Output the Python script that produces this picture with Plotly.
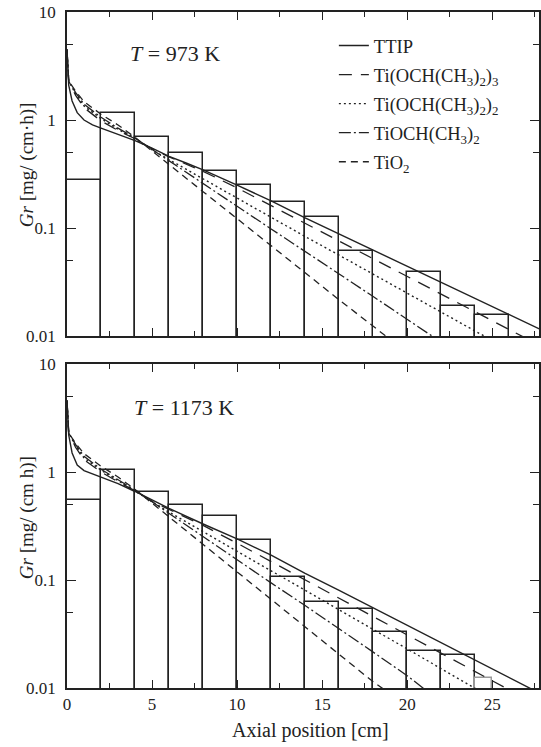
import plotly.graph_objects as go

# ---------------- data ----------------
bin_left = [0, 2, 4, 6, 8, 10, 12, 14, 16, 18, 20, 22, 24]
bin_right_top = [2, 4, 6, 8, 10, 12, 14, 16, 18, 20, 22, 24, 26]
bin_right_bot = [2, 4, 6, 8, 10, 12, 14, 16, 18, 20, 22, 24, 25]
exp_top = [0.28, 1.15, 0.70, 0.50, 0.34, 0.252, 0.174, 0.126, 0.061, None, 0.039, 0.019, 0.0156]
exp_bot = [0.55, 1.04, 0.65, 0.50, 0.39, 0.234, 0.106, 0.063, 0.0535, 0.0327, 0.022, 0.0202, 0.0124]

# 973 K model curves
ttip_x_t = [0, 0.1, 0.3, 0.6, 1, 1.5, 2, 3, 4, 5, 6, 7, 8, 10, 12, 14, 16, 18, 20, 22, 24, 26, 28]
ttip_y_t = [4.5, 2.1, 1.5, 1.17, 1.0, 0.9, 0.84, 0.73, 0.645, 0.55, 0.46, 0.40, 0.345, 0.25, 0.178, 0.124,
            0.088, 0.0625, 0.044, 0.031, 0.022, 0.0158, 0.0112]
tri_x_t = [0, 0.1, 0.5, 1, 2, 3, 4, 5, 6, 8, 10, 12, 14, 16, 18, 20, 22, 24, 26, 27]
tri_y_t = [4.5, 2.3, 1.7, 1.3, 0.98, 0.8, 0.67, 0.54, 0.455, 0.335, 0.235, 0.161, 0.111, 0.0759, 0.052,
           0.0356, 0.0244, 0.0168, 0.0115, 0.0095]
di_x_t = [0, 0.1, 0.5, 1, 2, 3, 4, 5, 6, 8, 10, 12, 14, 16, 18, 20, 22, 24, 25]
di_y_t = [4.5, 2.3, 1.75, 1.35, 1.03, 0.82, 0.67, 0.53, 0.43, 0.285, 0.187, 0.125, 0.0834, 0.056, 0.0372,
          0.0249, 0.0166, 0.0111, 0.0091]
mono_x_t = [0, 0.1, 0.5, 1, 2, 3, 4, 5, 6, 8, 10, 12, 14, 16, 18, 20, 21.5]
mono_y_t = [4.5, 2.3, 1.8, 1.4, 1.06, 0.84, 0.68, 0.532, 0.417, 0.257, 0.159, 0.098, 0.061, 0.0375,
            0.0232, 0.0143, 0.0099]
tio2_x_t = [0, 0.1, 0.5, 1, 2, 3, 4, 5, 6, 8, 10, 12, 14, 16, 18, 19]
tio2_y_t = [4.5, 2.3, 1.85, 1.48, 1.13, 0.9, 0.69, 0.515, 0.387, 0.217, 0.122, 0.069, 0.0385, 0.0216,
            0.0122, 0.0093]

# 1173 K model curves
ttip_x_b = [0, 0.1, 0.3, 0.6, 1, 1.5, 2, 3, 4, 5, 6, 8, 10, 12, 14, 16, 18, 20, 22, 24, 26, 28]
ttip_y_b = [4.6, 2.2, 1.5, 1.16, 1.03, 0.96, 0.9, 0.78, 0.66, 0.55, 0.46, 0.33, 0.24, 0.17, 0.115, 0.08,
            0.055, 0.038, 0.026, 0.0181, 0.0125, 0.0086]
tri_x_b = [0, 0.1, 0.5, 1, 2, 3, 4, 5, 6, 8, 10, 12, 14, 16, 18, 20, 22, 24, 26]
tri_y_b = [4.6, 2.3, 1.7, 1.3, 1.0, 0.81, 0.67, 0.535, 0.45, 0.32, 0.219, 0.148, 0.1, 0.0677, 0.0458,
           0.031, 0.021, 0.0142, 0.0096]
di_x_b = [0, 0.1, 0.5, 1, 2, 3, 4, 5, 6, 8, 10, 12, 14, 16, 18, 20, 22, 24]
di_y_b = [4.6, 2.3, 1.75, 1.35, 1.04, 0.83, 0.67, 0.53, 0.425, 0.28, 0.185, 0.122, 0.08, 0.053, 0.0349,
          0.023, 0.0151, 0.0099]
mono_x_b = [0, 0.1, 0.5, 1, 2, 3, 4, 5, 6, 8, 10, 12, 14, 16, 18, 20, 21]
mono_y_b = [4.6, 2.3, 1.8, 1.4, 1.06, 0.85, 0.68, 0.53, 0.413, 0.253, 0.155, 0.094, 0.058, 0.0355,
            0.0215, 0.013, 0.0098]
tio2_x_b = [0, 0.1, 0.5, 1, 2, 3, 4, 5, 6, 8, 10, 12, 14, 16, 18, 18.6]
tio2_y_b = [4.6, 2.3, 1.85, 1.48, 1.13, 0.9, 0.69, 0.515, 0.385, 0.214, 0.119, 0.066, 0.037, 0.0205,
            0.0114, 0.0098]

series_names = ["TTIP", "Ti(OCH(CH<sub>3</sub>)<sub>2</sub>)<sub>3</sub>",
                "Ti(OCH(CH<sub>3</sub>)<sub>2</sub>)<sub>2</sub>",
                "TiOCH(CH<sub>3</sub>)<sub>2</sub>", "TiO<sub>2</sub>"]
x_ticks = [0, 5, 10, 15, 20, 25]
x_minor = [2.5, 7.5, 12.5, 17.5, 22.5, 27.5]
y_ticks = [0.01, 0.1, 1, 10]
y_ticktext = ["0.01", "0.1", "1", "10"]
y_minor = [0.05, 0.5, 5]

# ---------------- styling ----------------
INK = "#222222"
SERIF = "Liberation Serif, Times New Roman, serif"
dashes = ["solid", "13px,9px", "2px,3px", "12px,3px,2px,3px", "7px,5px"]
widths = [1.4, 1.3, 1.4, 1.3, 1.3]

fig = go.Figure()


def add_bars(left, right, vals, xa, ya, last_grey=False):
    centers = [(l + r) / 2 for l, r in zip(left, right)]
    w = [r - l for l, r in zip(left, right)]
    lc = [INK] * len(vals)
    if last_grey:
        lc[-1] = "#9a9a9a"
    fig.add_trace(go.Bar(x=centers, y=vals, width=w, xaxis=xa, yaxis=ya,
                         marker=dict(color="rgba(255,255,255,0)", line=dict(color=lc, width=1.5)),
                         showlegend=False, hoverinfo="skip"))


add_bars(bin_left, bin_right_top, exp_top, "x", "y")
add_bars(bin_left, bin_right_bot, exp_bot, "x2", "y2", last_grey=True)

top_curves = [(ttip_x_t, ttip_y_t), (tri_x_t, tri_y_t), (di_x_t, di_y_t), (mono_x_t, mono_y_t),
              (tio2_x_t, tio2_y_t)]
bot_curves = [(ttip_x_b, ttip_y_b), (tri_x_b, tri_y_b), (di_x_b, di_y_b), (mono_x_b, mono_y_b),
              (tio2_x_b, tio2_y_b)]

for i, (xs, ys) in enumerate(top_curves):
    fig.add_trace(go.Scatter(x=xs, y=ys, mode="lines", name=series_names[i], legendgroup=f"g{i}",
                             line=dict(color=INK, width=widths[i], dash=dashes[i]),
                             xaxis="x", yaxis="y"))
for i, (xs, ys) in enumerate(bot_curves):
    fig.add_trace(go.Scatter(x=xs, y=ys, mode="lines", name=series_names[i], legendgroup=f"g{i}",
                             showlegend=False,
                             line=dict(color=INK, width=widths[i], dash=dashes[i]),
                             xaxis="x2", yaxis="y2"))

L, R, T, B = 67, 0, 12, 59
W, H = 541, 747
ph = H - T - B
pw = W - L - R
top_dom = [(688 - 336) / ph, 1.0]
bot_dom = [0.0, (688 - 364) / ph]

xcommon = dict(range=[0, 27.75], showline=True, linecolor=INK, linewidth=1.5, mirror="ticks",
               ticks="inside", ticklen=8, tickwidth=1.2, tickcolor=INK, tickvals=x_ticks,
               minor=dict(tickvals=x_minor, ticks="inside", ticklen=5, tickwidth=1.2, tickcolor=INK),
               showgrid=False, zeroline=False,
               tickfont=dict(family=SERIF, size=17, color=INK))
ycommon = dict(type="log", range=[-2, 1], showline=True, linecolor=INK, linewidth=1.5, mirror="ticks",
               ticks="inside", ticklen=9, tickwidth=1.2, tickcolor=INK, tickvals=y_ticks,
               ticktext=y_ticktext, ticklabelstandoff=6,
               minor=dict(tickvals=y_minor, ticks="inside", ticklen=6, tickwidth=1.2, tickcolor=INK),
               showgrid=False, zeroline=False,
               tickfont=dict(family=SERIF, size=17, color=INK))

fig.update_layout(
    width=W, height=H, margin=dict(l=L, r=R, t=T, b=B),
    paper_bgcolor="white", plot_bgcolor="white",
    barmode="overlay", bargap=0,
    xaxis=dict(xcommon, anchor="y", domain=[0, 1], showticklabels=False),
    yaxis=dict(ycommon, anchor="x", domain=top_dom),
    xaxis2=dict(xcommon, anchor="y2", domain=[0, 1]),
    yaxis2=dict(ycommon, anchor="x2", domain=bot_dom),
    legend=dict(x=(335 - L) / pw, xanchor="left", y=(688 - 27) / ph, yanchor="top",
                bgcolor="rgba(0,0,0,0)", borderwidth=0, tracegroupgap=2,
                font=dict(family=SERIF, size=18.5, color=INK)),
    showlegend=True,
)

ann_font = dict(family=SERIF, size=22, color=INK)
fig.add_annotation(text="<i>T</i> = 973 K", x=6.35, y=0.62, xref="x", yref="y", showarrow=False,
                   xanchor="center", yanchor="middle", font=ann_font)
fig.add_annotation(text="<i>T</i> = 1173 K", x=6.9, y=0.60, xref="x2", yref="y2", showarrow=False,
                   xanchor="center", yanchor="middle", font=ann_font)
fig.add_annotation(text="<i>Gr</i> [mg/ (cm·h)]", x=(27 - L) / pw, y=(688 - 165) / ph,
                   xref="paper", yref="paper", textangle=-90, showarrow=False,
                   xanchor="center", yanchor="middle",
                   font=dict(family=SERIF, size=19, color=INK))
fig.add_annotation(text="<i>Gr</i> [mg/ (cm h)]", x=(27 - L) / pw, y=(688 - 518) / ph,
                   xref="paper", yref="paper", textangle=-90, showarrow=False,
                   xanchor="center", yanchor="middle",
                   font=dict(family=SERIF, size=19, color=INK))
fig.add_annotation(text="Axial position [cm]", x=(312 - L) / pw, y=(688 - 730) / ph,
                   xref="paper", yref="paper", showarrow=False,
                   xanchor="center", yanchor="middle",
                   font=dict(family=SERIF, size=20, color=INK))

fig.write_html("out.html", config={"displayModeBar": False},
               post_script="document.body.style.margin='0';document.body.style.overflow='hidden';")
